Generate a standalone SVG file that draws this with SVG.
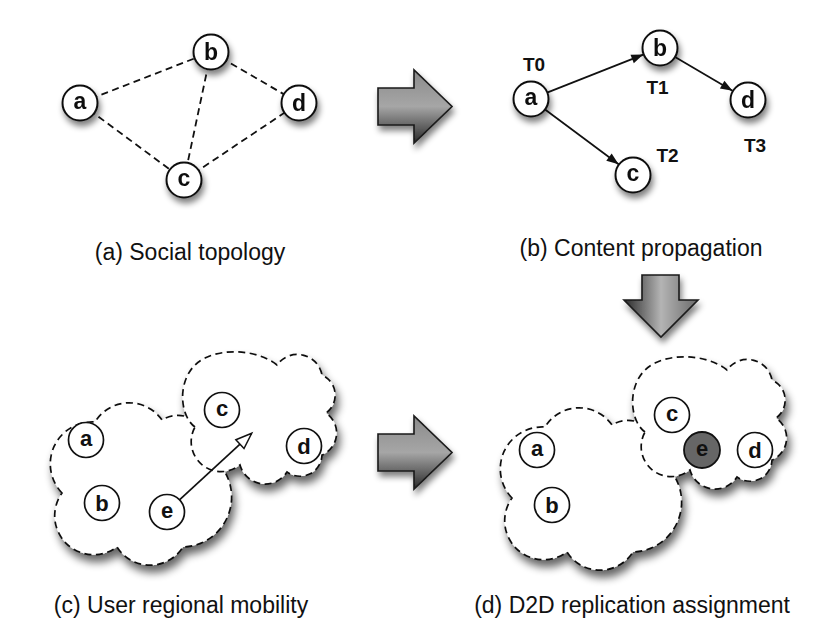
<svg xmlns="http://www.w3.org/2000/svg" width="830" height="639" viewBox="0 0 830 639">
<defs>
<style>
.lbl{font-family:"Liberation Sans",Arial,sans-serif;font-size:23px;fill:#111;text-anchor:middle}
.nl{font-family:"Liberation Sans",Arial,sans-serif;font-size:23px;font-weight:bold;fill:#111;text-anchor:middle}
.nl2{font-family:"Liberation Sans",Arial,sans-serif;font-size:22px;font-weight:bold;fill:#111;text-anchor:middle}
.tl{font-family:"Liberation Sans",Arial,sans-serif;font-size:19px;font-weight:bold;fill:#111;text-anchor:middle}
.nd{fill:#fff;stroke:#111;stroke-width:2}
.nd2{fill:#fff;stroke:#111;stroke-width:1.7}
.dash{stroke:#111;stroke-width:1.8;stroke-dasharray:7 4.5;fill:none}
.arr{stroke:#111;stroke-width:1.7;fill:none}
.cloud{fill:#fff;stroke:#111;stroke-width:1.7;stroke-dasharray:7 4.5}
.bigR{fill:url(#gR);stroke:#1a1a1a;stroke-width:1.6;stroke-linejoin:miter}
.bigD{fill:url(#gD);stroke:#1a1a1a;stroke-width:1.6;stroke-linejoin:miter}
</style>
<filter id="sh" x="-40%" y="-40%" width="180%" height="190%">
<feGaussianBlur in="SourceAlpha" stdDeviation="3"/>
<feOffset dx="2" dy="5" result="o"/>
<feComponentTransfer><feFuncA type="linear" slope="0.5"/></feComponentTransfer>
<feMerge><feMergeNode/><feMergeNode in="SourceGraphic"/></feMerge>
</filter>
<filter id="shc" x="-20%" y="-20%" width="140%" height="150%">
<feGaussianBlur in="SourceAlpha" stdDeviation="4"/>
<feOffset dx="3" dy="7"/>
<feComponentTransfer><feFuncA type="linear" slope="0.6"/></feComponentTransfer>
<feMerge><feMergeNode/><feMergeNode in="SourceGraphic"/></feMerge>
</filter>
<linearGradient id="gR" x1="0" y1="0" x2="0" y2="1">
<stop offset="0" stop-color="#8a8a8a"/>
<stop offset="0.5" stop-color="#a6a6a6"/>
<stop offset="1" stop-color="#2a2a2a"/>
</linearGradient>
<linearGradient id="gD" x1="0" y1="0" x2="1" y2="0">
<stop offset="0" stop-color="#2a2a2a"/>
<stop offset="0.5" stop-color="#b4b4b4"/>
<stop offset="1" stop-color="#6a6a6a"/>
</linearGradient>
<marker id="ah" markerUnits="userSpaceOnUse" markerWidth="13" markerHeight="10" refX="12" refY="4.5" orient="auto" overflow="visible">
<path d="M0,0 L12,4.5 L0,9 Z" fill="#111"/>
</marker>
<marker id="ho" markerUnits="userSpaceOnUse" markerWidth="18" markerHeight="14" refX="16" refY="6" orient="auto" overflow="visible">
<path d="M0,0 L16,6 L0,12 Z" fill="#fff" stroke="#111" stroke-width="1.5"/>
</marker>
</defs>
<rect width="830" height="639" fill="#fff"/>

<!-- big arrows -->
<g id="bigarrow1" filter="url(#sh)"><path class="bigR" d="M378,88 L414,88 L414,70 L452,106.5 L414,143 L414,125 L378,125 Z"/></g>
<g id="bigarrow2" filter="url(#sh)"><path class="bigD" d="M642,275 L679,275 L679,300 L698,300 L661,337 L624,300 L642,300 Z"/></g>
<g id="bigarrow3" filter="url(#sh)"><path class="bigR" d="M378,434 L414,434 L414,416 L452,452.5 L414,489 L414,471 L378,471 Z"/></g>

<!-- clouds (c) -->
<g id="clouds-c" filter="url(#shc)">
<path class="cloud" d="M62,493 A42,42 0 0 1 95,422 A40,40 0 0 1 162,420 A30,30 0 0 1 200,425 L226,474 A50,50 0 0 1 183,547 A39,39 0 0 1 117,547 A39,39 0 0 1 62,493 Z"/>
<path class="cloud" d="M195,427 C178,415 176,372 205,358 C225,348 258,350 277,365 A25,25 0 0 1 322,375 A22,22 0 0 1 326,413 A24,24 0 0 1 322,455 A22,22 0 0 1 287,472 A26,26 0 0 1 240,465 A30,30 0 0 1 195,427 Z"/>
</g>
<!-- clouds (d) -->
<g id="clouds-d" filter="url(#shc)" transform="translate(450,5)">
<path class="cloud" d="M62,493 A42,42 0 0 1 95,422 A40,40 0 0 1 162,420 A30,30 0 0 1 200,425 L226,474 A50,50 0 0 1 183,547 A39,39 0 0 1 117,547 A39,39 0 0 1 62,493 Z"/>
<path class="cloud" d="M195,427 C178,415 176,372 205,358 C225,348 258,350 277,365 A25,25 0 0 1 322,375 A22,22 0 0 1 326,413 A24,24 0 0 1 322,455 A22,22 0 0 1 287,472 A26,26 0 0 1 240,465 A30,30 0 0 1 195,427 Z"/>
</g>

<!-- connectors -->
<g id="connectors">
<line class="dash" x1="80" y1="103" x2="211" y2="52"/>
<line class="dash" x1="80" y1="103" x2="184" y2="180"/>
<line class="dash" x1="211" y1="52" x2="184" y2="180"/>
<line class="dash" x1="211" y1="52" x2="299" y2="103"/>
<line class="dash" x1="184" y1="180" x2="299" y2="103"/>
<line class="arr" x1="547.7" y1="92.4" x2="643.3" y2="54.6" marker-end="url(#ah)"/>
<line class="arr" x1="675.5" y1="57.2" x2="732.5" y2="90.8" marker-end="url(#ah)"/>
<line class="arr" x1="545.4" y1="109.7" x2="618.6" y2="164.3" marker-end="url(#ah)"/>
<line class="arr" x1="179.2" y1="500.2" x2="251.7" y2="433.3" marker-end="url(#ho)"/>
</g>

<!-- panel (a) nodes -->
<g id="a-a" filter="url(#sh)"><circle class="nd" cx="80" cy="103" r="17.5"/><text class="nl" x="80" y="109">a</text></g>
<g id="a-b" filter="url(#sh)"><circle class="nd" cx="211" cy="52" r="17.5"/><text class="nl" x="211" y="60">b</text></g>
<g id="a-c" filter="url(#sh)"><circle class="nd" cx="184" cy="180" r="17.5"/><text class="nl" x="184" y="186">c</text></g>
<g id="a-d" filter="url(#sh)"><circle class="nd" cx="299" cy="103" r="17.5"/><text class="nl" x="299" y="111">d</text></g>

<!-- panel (b) nodes -->
<g id="b-a" filter="url(#sh)"><circle class="nd" cx="531" cy="99" r="17.5"/><text class="nl" x="531" y="105">a</text></g>
<g id="b-b" filter="url(#sh)"><circle class="nd" cx="660" cy="48" r="17.5"/><text class="nl" x="660" y="56">b</text></g>
<g id="b-c" filter="url(#sh)"><circle class="nd" cx="633" cy="175" r="17.5"/><text class="nl" x="633" y="181">c</text></g>
<g id="b-d" filter="url(#sh)"><circle class="nd" cx="748" cy="100" r="17.5"/><text class="nl" x="748" y="108">d</text></g>
<g id="b-times">
<text class="tl" x="534" y="71">T0</text>
<text class="tl" x="657.5" y="94">T1</text>
<text class="tl" x="667.5" y="162">T2</text>
<text class="tl" x="755" y="152">T3</text>
</g>

<!-- panel (c) nodes -->
<g id="c-a"><circle class="nd2" cx="86" cy="440" r="17.5"/><text class="nl2" x="86" y="446">a</text></g>
<g id="c-b"><circle class="nd2" cx="102" cy="503" r="17.5"/><text class="nl2" x="102" y="511">b</text></g>
<g id="c-c"><circle class="nd2" cx="222" cy="410" r="17.5"/><text class="nl2" x="222" y="416">c</text></g>
<g id="c-d"><circle class="nd2" cx="304" cy="446" r="17.5"/><text class="nl2" x="304" y="454">d</text></g>
<g id="c-e"><circle class="nd2" cx="167" cy="512" r="17.5"/><text class="nl2" x="167" y="518">e</text></g>

<!-- panel (d) nodes -->
<g id="d-a"><circle class="nd2" cx="537" cy="450" r="17.5"/><text class="nl2" x="537" y="456">a</text></g>
<g id="d-b"><circle class="nd2" cx="552" cy="505" r="17.5"/><text class="nl2" x="552" y="513">b</text></g>
<g id="d-c"><circle class="nd2" cx="672" cy="415" r="17.5"/><text class="nl2" x="672" y="421">c</text></g>
<g id="d-e"><circle cx="702" cy="450" r="18" fill="#666" stroke="#111" stroke-width="1.8"/><text class="nl2" x="702" y="456">e</text></g>
<g id="d-d"><circle class="nd2" cx="755" cy="450" r="17.5"/><text class="nl2" x="755" y="458">d</text></g>

<!-- captions -->
<text class="lbl" x="190" y="260">(a) Social topology</text>
<text class="lbl" x="641" y="256">(b) Content propagation</text>
<text class="lbl" x="181" y="613">(c) User regional mobility</text>
<text class="lbl" x="632" y="613">(d) D2D replication assignment</text>
</svg>
